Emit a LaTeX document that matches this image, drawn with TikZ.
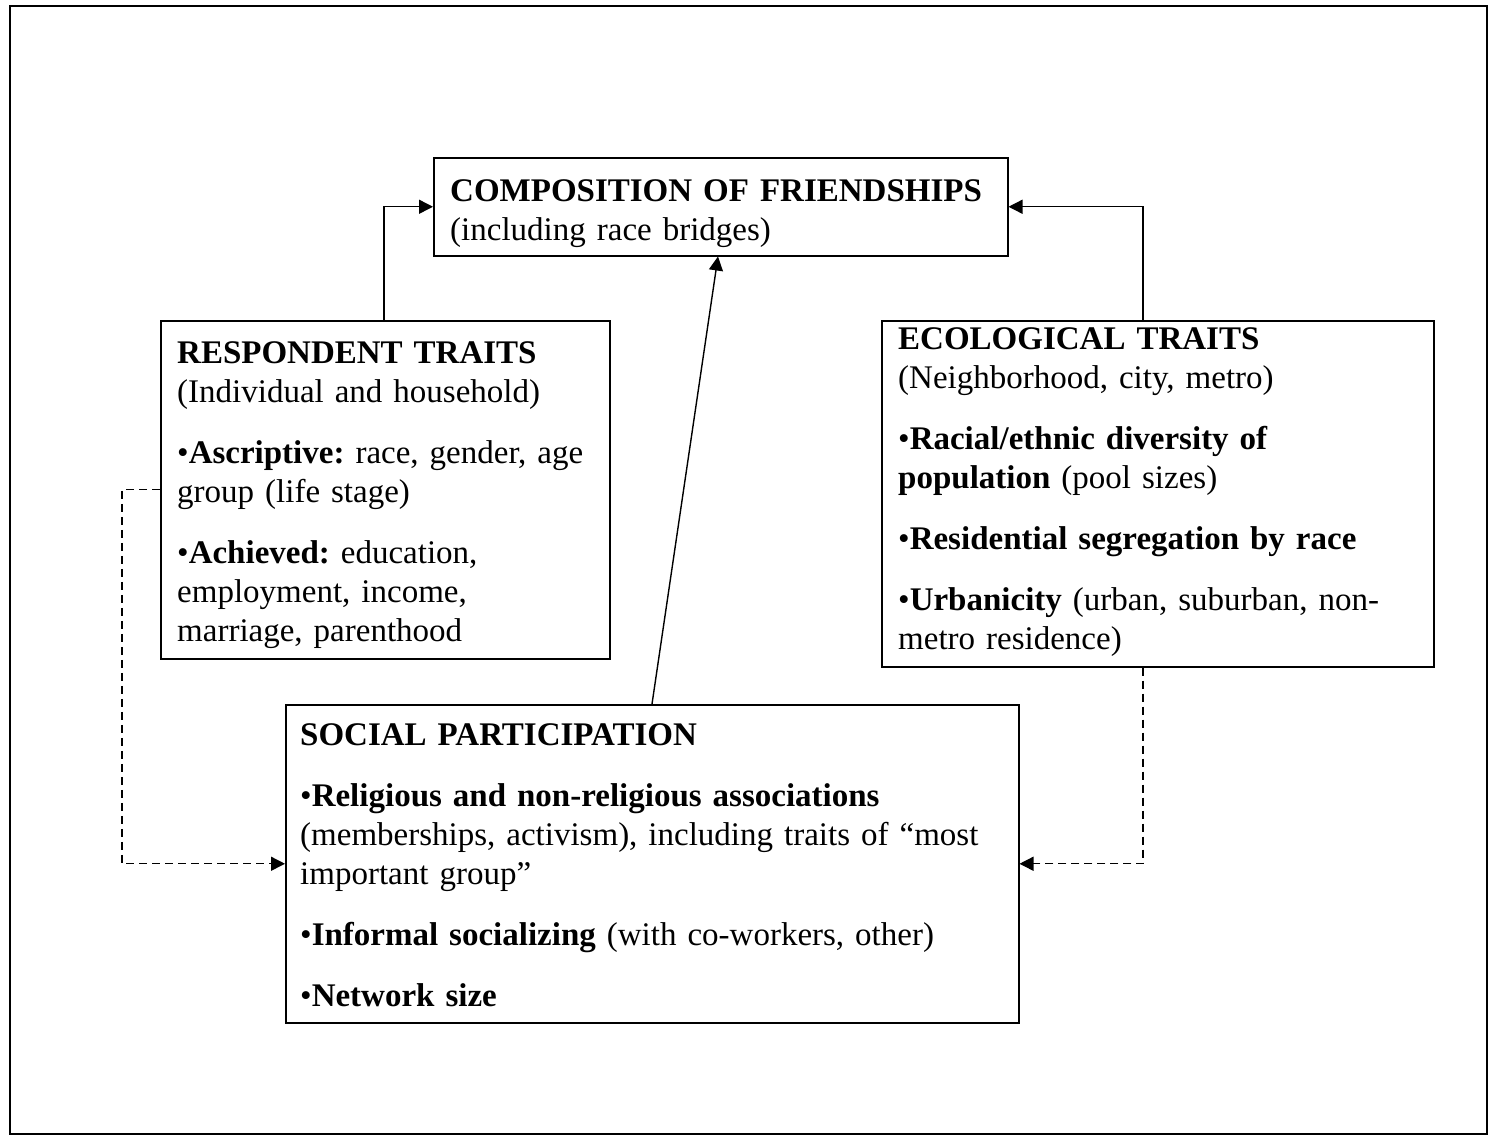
\documentclass[tikz,border=0pt]{standalone}
\usepackage{fontspec}
\setmainfont{Liberation Serif}
\usetikzlibrary{arrows.meta}
\frenchspacing
\begin{document}
\begin{tikzpicture}[x=1pt,y=-1pt,
  box/.style={draw, line width=1.5pt, rectangle, inner sep=0pt, anchor=north west},
  txt/.style={anchor=base west, inner sep=0pt, align=left, text width=760pt,
              font=\fontsize{33}{39}\selectfont\frenchspacing},
  arr/.style={line width=1.4pt, -{Triangle[length=14pt,width=14pt]}},
  darr/.style={line width=1.4pt, dash pattern=on 8pt off 5pt, -{Triangle[length=14pt,width=14pt]}}]
\useasboundingbox (0,0) rectangle (1490,1136);
\draw[line width=2.5pt] (10,6) rectangle (1487,1134);

% boxes
\node[box, minimum width=574pt, minimum height=98pt] (comp) at (433,157) {};
\node[box, minimum width=449pt, minimum height=338pt] (resp) at (160,320) {};
\node[box, minimum width=552pt, minimum height=346pt] (eco) at (881,320) {};
\node[box, minimum width=733pt, minimum height=318pt] (soc) at (285,704) {};

% texts
\node[txt] (tcomp) at (450,201) {\textbf{COMPOSITION OF FRIENDSHIPS}\\(including race bridges)};
\node[txt] (tresp) at (177,363) {\textbf{RESPONDENT TRAITS}\\(Individual and household)\\[22pt]
•\textbf{Ascriptive:} race, gender, age\\group (life stage)\\[22pt]
•\textbf{Achieved:} education,\\employment, income,\\marriage, parenthood};
\node[txt] (teco) at (898,349) {\textbf{ECOLOGICAL TRAITS}\\(Neighborhood, city, metro)\\[22pt]
•\textbf{Racial/ethnic diversity of}\\\textbf{population} (pool sizes)\\[22pt]
•\textbf{Residential segregation by race}\\[22pt]
•\textbf{Urbanicity} (urban, suburban, non-\\metro residence)};
\node[txt] (tsoc) at (300,745) {\textbf{SOCIAL PARTICIPATION}\\[22pt]
•\textbf{Religious and non-religious associations}\\(memberships, activism), including traits of “most\\important group”\\[22pt]
•\textbf{Informal socializing} (with co-workers, other)\\[22pt]
•\textbf{Network size}};

% connectors
\draw[arr] ([xshift=224pt]resp.north west) |- (comp.west);
\draw[arr] ([xshift=262pt]eco.north west) |- (comp.east);
\draw[arr] ([xshift=367pt]soc.north west) -- ([xshift=285pt]comp.south west);
\draw[darr] (resp.west) -- ++(-38,0) |- (soc.west);
\draw[darr] ([xshift=262pt]eco.south west) |- (soc.east);
\end{tikzpicture}
\end{document}
